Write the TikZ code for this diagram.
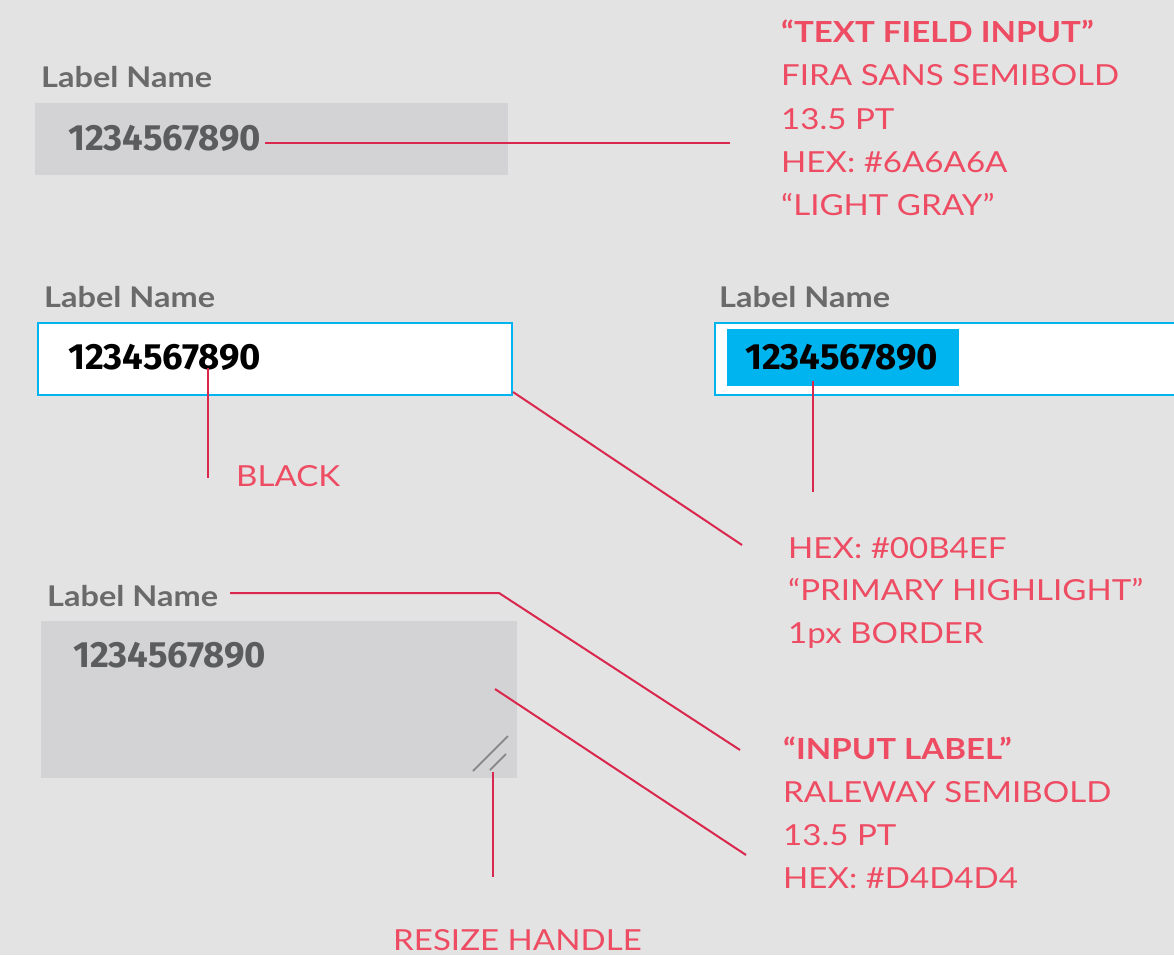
\documentclass[tikz,border=0pt]{standalone}
\usepackage{fontspec}
\setmainfont{Lato}[FakeStretch=1.14]
\newfontfamily\numfont{Fira Sans}
\usetikzlibrary{positioning}

\definecolor{bggray}{HTML}{E3E3E3}
\definecolor{fieldgray}{HTML}{D3D3D5}
\definecolor{labelgray}{HTML}{6A6A6A}
\definecolor{numgray}{HTML}{5B5C5D}
\definecolor{hilite}{HTML}{00B4EF}
\definecolor{leadred}{HTML}{D9274D}
\definecolor{notered}{HTML}{EE4C63}
\definecolor{gripgray}{HTML}{8A8C8C}

\tikzset{
  field/.style={fill=fieldgray, inner sep=0, anchor=north west},
  focus/.style={fill=white, draw=hilite, line width=2pt, inner sep=0, anchor=north west},
  lbl/.style={font=\fontsize{28.5}{28.5}\selectfont\bfseries, text=labelgray, anchor=base west, inner sep=0},
  num/.style={font=\numfont\fontsize{36.5}{36.5}\selectfont\bfseries, anchor=base west, inner sep=0},
  note/.style={font=\fontsize{29}{29}\selectfont, text=notered, anchor=base west, inner sep=0},
  lead/.style={draw=leadred, line width=2pt},
}

\begin{document}
\begin{tikzpicture}[x=1pt, y=-1pt]
\fill[bggray] (0,0) rectangle (1174,955);
\useasboundingbox (0,0) rectangle (1174,955);

% disabled field
\node[lbl] (lab1) at (41,88) {Label Name};
\node[field, minimum width=473pt, minimum height=72pt] (box1) at (35,103) {};
\node[num, text=numgray] (num1) at (68,150) {1234567890};

% focused field
\node[lbl] (lab2) at (44,307) {Label Name};
\node[focus, minimum width=474pt, minimum height=72pt] (box2) at (37,322) {};
\node[num, text=black] (num2) at (68,369) {1234567890};

% focused field, text selected
\node[lbl] (lab3) at (719,307) {Label Name};
\node[focus, minimum width=470pt, minimum height=72pt] (box3) at (714,322) {};
\node[fill=hilite, inner sep=0, minimum width=232pt, minimum height=57pt, anchor=north west] (sel) at (727,329) {};
\node[num, text=black] (num3) at (745,369) {1234567890};

% text area
\node[lbl] (lab4) at (47,606) {Label Name};
\node[field, minimum width=476pt, minimum height=157pt] (box4) at (41,621) {};
\node[num, text=numgray] (num4) at (73,667) {1234567890};
\draw[gripgray, line width=2pt] (473,771) -- (508,736);
\draw[gripgray, line width=2pt] (490,770) -- (506,754);

% notes
\node[note, font=\fontsize{29}{29}\selectfont\bfseries] (tf1) at (781,43) {“TEXT FIELD INPUT”};
\node[note] (tf2) at ([yshift=-43pt]tf1.base west) {FIRA SANS SEMIBOLD};
\node[note] (tf3) at ([yshift=-43pt]tf2.base west) {13.5 PT};
\node[note] (tf4) at ([yshift=-43pt]tf3.base west) {HEX: \#6A6A6A};
\node[note] (tf5) at ([yshift=-43pt]tf4.base west) {“LIGHT GRAY”};

\node[note] (blk) at (236,486) {BLACK};

\node[note] (hl1) at (788,558) {HEX: \#00B4EF};
\node[note] (hl2) at ([yshift=-42pt]hl1.base west) {“PRIMARY HIGHLIGHT”};
\node[note] (hl3) at ([yshift=-43pt]hl2.base west) {1px BORDER};

\node[note, font=\fontsize{29}{29}\selectfont\bfseries] (il1) at (783,759) {“INPUT LABEL”};
\node[note] (il2) at ([yshift=-43pt]il1.base west) {RALEWAY SEMIBOLD};
\node[note] (il3) at ([yshift=-43pt]il2.base west) {13.5 PT};
\node[note] (il4) at ([yshift=-43pt]il3.base west) {HEX: \#D4D4D4};

\node[note] (rh) at (393,950) {RESIZE HANDLE};

% leader lines
\coordinate (tfEnd) at (730,143);
\coordinate (blkEnd) at (208,478);
\coordinate (hlEnd) at (742,545);
\coordinate (selEnd) at (813,492);
\coordinate (labBend) at (499,593);
\coordinate (ilEnd) at (740,750);
\coordinate (areaEnd) at (746,855);
\coordinate (rhEnd) at (493,877);
\draw[lead] (265,143) -- (tfEnd);
\draw[lead] (208,368) -- (blkEnd);
\draw[lead] ([yshift=4pt]box2.south east) -- (hlEnd);
\draw[lead] (813,381) -- (selEnd);
\draw[lead] (230,593) -- (labBend) -- (ilEnd);
\draw[lead] (495,689) -- (areaEnd);
\draw[lead] (493,772) -- (rhEnd);
\end{tikzpicture}
\end{document}
